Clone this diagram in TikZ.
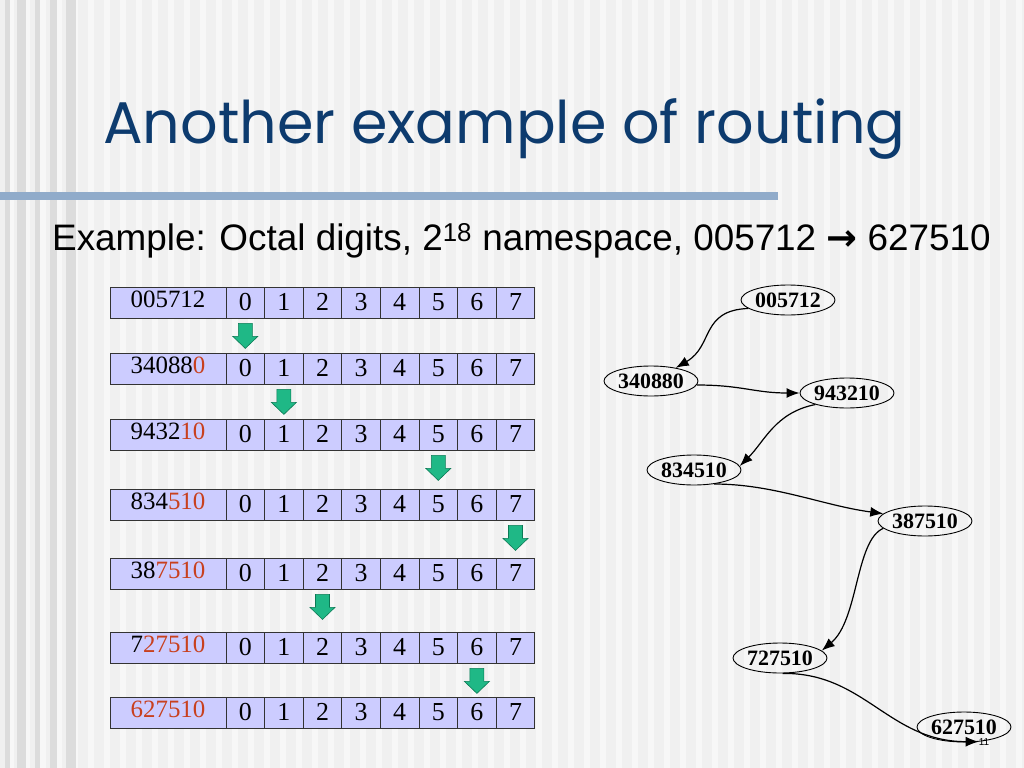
\documentclass[tikz,border=0pt]{standalone}
\usepackage{fontspec}
\setmainfont{Liberation Serif}
\newfontfamily\subfont{Liberation Sans}
\newfontfamily\titlefont{Poppins}
\newfontfamily\symfont{DejaVu Sans}
\usetikzlibrary{shapes.geometric,arrows.meta}
\definecolor{bgbase}{HTML}{F0F0F0}
\definecolor{bgstripe}{HTML}{F7F7F7}
\definecolor{leftband}{HTML}{DCDCDC}
\definecolor{rulecol}{HTML}{90ABCA}
\definecolor{titleblue}{HTML}{0D3B6E}
\definecolor{cellfill}{HTML}{CCCCFF}
\definecolor{digitred}{HTML}{C8401E}
\definecolor{hopgreen}{HTML}{1FB886}
\definecolor{hopedge}{HTML}{0B7A55}
\begin{document}
\begin{tikzpicture}[x=1bp,y=-1bp,
   labelbox/.style={draw=black!80,line width=0.8bp,fill=cellfill,inner sep=0,
     minimum width=116bp,minimum height=31bp,text height=17bp,text depth=8bp,
     font=\fontsize{25}{25}\selectfont},
   cellbox/.style={draw=black!80,line width=0.8bp,fill=cellfill,inner sep=0,
     minimum width=38.6bp,minimum height=31bp,text height=19bp,text depth=3bp,
     font=\fontsize{26}{26}\selectfont},
   hop/.style={fill=hopgreen,draw=hopedge,line width=0.6bp,line join=miter},
   idnode/.style={ellipse,draw,line width=0.9bp,inner sep=0,minimum width=94bp,
     minimum height=30bp,font=\fontsize{22}{22}\selectfont\bfseries},
   route/.style={line width=1.2bp,-{Latex[length=13bp,width=10bp]}}]
   \useasboundingbox (0,0) rectangle (1024,768);
   \fill[bgbase] (0,0) rectangle (1024,768);
   \foreach \i in {0,...,63}
     \fill[bgstripe] (16*\i+8,0) rectangle ++(6,768);
   \foreach \x/\w in {5/5,17/9,35/5,50/7,66/10}
     \fill[leftband] (\x,0) rectangle ++(\w,768);
   \fill[rulecol] (0,192) rectangle (778,200);
   \node[anchor=base west,text=titleblue,inner sep=0,font=\titlefont\fontsize{59}{59}\selectfont]
     (title) at (103,143) {Another example of routing};
   \node[anchor=base west,inner sep=0,font=\subfont\fontsize{37}{37}\selectfont]
     (subtitle) at (52,250) {Example: Octal digits, 2\textsuperscript{18} namespace, 005712 {\symfont\bfseries →} 627510};
   % table rows
   \foreach \r/\y/\blk/\red in {1/302.5/005712/{},2/368.5/34088/0,3/434.5/9432/10,
       4/504.5/834/510,5/573.5/38/7510,6/647.5/7/27510,7/712.5/{}/627510}{
     \node[labelbox] (row\r) at (168,\y) {\blk\textcolor{digitred}{\red}\hspace{11bp}};
     \foreach \c in {0,...,7}
       \node[cellbox] (cell\r-\c) at (245.3+38.6*\c,\y) {\c};
   }
   \foreach \r/\c in {1/0,2/1,3/5,4/7,5/2,6/6}
     \filldraw[hop] ([yshift=-5bp]cell\r-\c.south) ++(-7,0) -- ++(14,0) -- ++(0,13)
       -- ++(5.5,0) -- ++(-12.5,12) -- ++(-12.5,-12) -- ++(5.5,0) -- cycle;
   % routing graph
   \node[idnode] (n005712) at (788,300) {005712};
   \node[idnode] (n340880) at (651,381) {340880};
   \node[idnode] (n943210) at (847,393) {943210};
   \node[idnode] (n834510) at (694,470) {834510};
   \node[idnode] (n387510) at (925,521) {387510};
   \node[idnode] (n727510) at (780,658) {727510};
   \node[idnode] (n627510) at (964,727) {627510};
   \draw[route] (n005712.192) .. controls +(-48,2) and +(38,-22) .. (n340880.28);
   \draw[route] (n340880.-5) .. controls +(45,0) and +(-45,0) .. (n943210.180);
   \draw[route] (n943210.200) .. controls +(-40,8) and +(25,-25) .. (n834510.5);
   \draw[route] (n834510.-35) .. controls +(60,0) and +(-60,-8) .. (n387510.170);
   \draw[route] (n387510.190) .. controls +(-28,12) and +(37,-31) .. (n727510.10);
   \draw[route] (n727510.-80) .. controls +(82,-1) and +(-90,0) .. (n627510.-45);
   \node[inner sep=0,font=\subfont\fontsize{10}{10}\selectfont] (pagenum) at (984,742) {11};
\end{tikzpicture}
\end{document}
